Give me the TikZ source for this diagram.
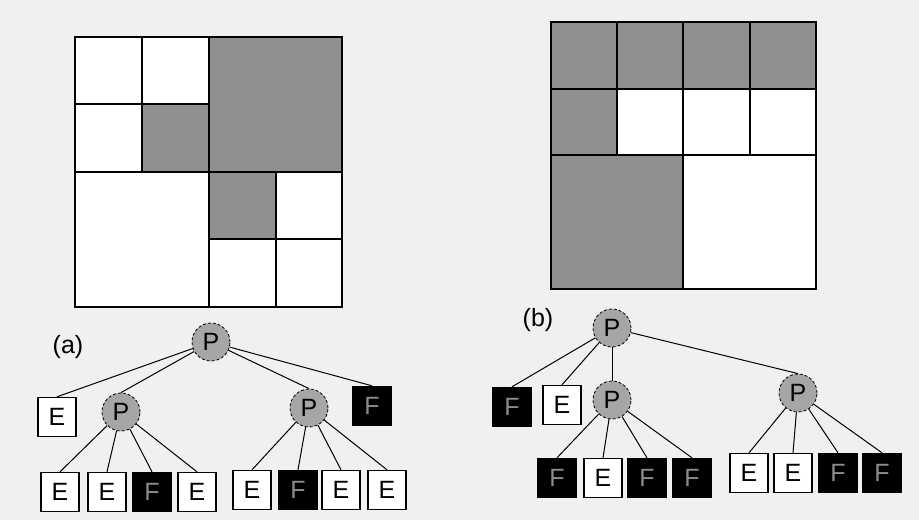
\documentclass[tikz,border=0pt]{standalone}
\usepackage{fontspec}
\setsansfont{Liberation Sans}
\usetikzlibrary{positioning}

\tikzset{
    cellgray/.style={fill=black!44},
    gridline/.style={line width=1.5pt, line cap=round},
    treeedge/.style={line width=1pt},
    inner/.style={circle, draw, densely dashed, thick, fill=black!35, minimum size=38pt, inner sep=0pt},
    leafE/.style={draw, line width=1.4pt, fill=white, minimum width=38pt, minimum height=39pt, inner sep=0pt},
    leafF/.style={draw, line width=1.4pt, fill=black, text=black!45, minimum width=38pt, minimum height=39pt, inner sep=0pt},
}

\begin{document}
\begin{tikzpicture}[x=1pt, y=-1pt, font=\sffamily\fontsize{25}{28}\selectfont]
    % scanned page background
    \fill[black!6] (0,0) rectangle (919,520);
    \useasboundingbox (0,0) rectangle (919,520);

    % quadtree (a)
    \fill[white] (75,37) rectangle (342,307);
    \fill[cellgray] (209,37) rectangle (342,172);
    \fill[cellgray] (142,104) rectangle (209,172);
    \fill[cellgray] (209,172) rectangle (276,239);
    \draw[gridline] (75,37) rectangle (342,307);
    \draw[gridline] (209,37) -- (209,307);
    \draw[gridline] (75,172) -- (342,172);
    \draw[gridline] (142,37) -- (142,172);
    \draw[gridline] (75,104) -- (209,104);
    \draw[gridline] (276,172) -- (276,307);
    \draw[gridline] (209,239) -- (342,239);

    % quadtree (b)
    \fill[white] (551,22) rectangle (816,289);
    \fill[cellgray] (551,22) rectangle (816,89);
    \fill[cellgray] (551,89) rectangle (617,155);
    \fill[cellgray] (551,155) rectangle (683,289);
    \draw[gridline] (551,22) rectangle (816,289);
    \draw[gridline] (551,155) -- (816,155);
    \draw[gridline] (683,22) -- (683,289);
    \draw[gridline] (617,22) -- (617,155);
    \draw[gridline] (750,22) -- (750,155);
    \draw[gridline] (551,89) -- (816,89);

    % tree (a)
    \node (labA) at (68,347) {(a)};
    \node[inner] (rootA) at (211,342) {P};
    \node[leafE] (a1) at (57,417) {E};
    \node[inner] (a2) at (121,412) {P};
    \node[inner] (a3) at (309,408) {P};
    \node[leafF] (a4) at (372,406) {F};
    \node[leafE] (a21) at (60,492) {E};
    \node[leafE] (a22) at (107,492) {E};
    \node[leafF] (a23) at (152,492) {F};
    \node[leafE] (a24) at (197,492) {E};
    \node[leafE] (a31) at (252,490) {E};
    \node[leafF] (a32) at (298,490) {F};
    \node[leafE] (a33) at (341,490) {E};
    \node[leafE] (a34) at (387,490) {E};

    % tree (b)
    \node (labB) at (538,320) {(b)};
    \node[inner] (rootB) at (612,328) {P};
    \node[leafF] (b1) at (512,407) {F};
    \node[leafE] (b2) at (562,405) {E};
    \node[inner] (b3) at (612,400) {P};
    \node[inner] (b4) at (798,393) {P};
    \node[leafF] (b31) at (557,478) {F};
    \node[leafE] (b32) at (603,478) {E};
    \node[leafF] (b33) at (647,478) {F};
    \node[leafF] (b34) at (692,478) {F};
    \node[leafE] (b41) at (749,473) {E};
    \node[leafE] (b42) at (793,473) {E};
    \node[leafF] (b43) at (838,473) {F};
    \node[leafF] (b44) at (882,473) {F};

    \foreach \p/\c in {rootA/a1, rootA/a2, rootA/a3, rootA/a4,
                       a2/a21, a2/a22, a2/a23, a2/a24,
                       a3/a31, a3/a32, a3/a33, a3/a34,
                       rootB/b1, rootB/b2, rootB/b3, rootB/b4,
                       b3/b31, b3/b32, b3/b33, b3/b34,
                       b4/b41, b4/b42, b4/b43, b4/b44}
        \draw[treeedge] (\p) -- (\c.north);
\end{tikzpicture}
\end{document}
